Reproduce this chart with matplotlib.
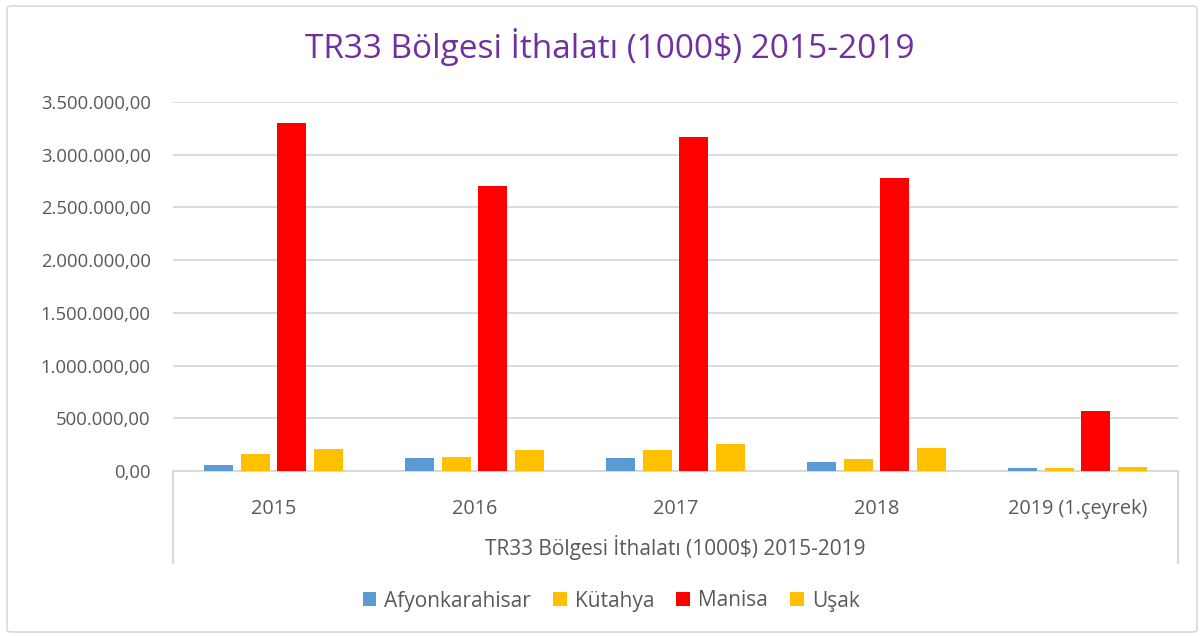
import matplotlib
matplotlib.use("Agg")
import matplotlib.pyplot as plt
import numpy as np
from matplotlib.patches import FancyBboxPatch
from matplotlib.lines import Line2D
from matplotlib.ticker import FuncFormatter

categories = ["2015", "2016", "2017", "2018", "2019 (1.çeyrek)"]
series_names = ["Afyonkarahisar", "Kütahya", "Manisa", "Uşak"]
afyon = [57000, 126000, 126000, 88000, 28000]
kutahya = [161000, 133000, 199000, 114000, 25000]
manisa = [3300000, 2703000, 3168000, 2779000, 569000]
usak = [206000, 202000, 256000, 218000, 38000]
colors = ["#5B9BD5", "#FFC000", "#FF0000", "#FFC000"]
title = "TR33 Bölgesi İthalatı (1000$) 2015-2019"
yticks = [0, 500000, 1000000, 1500000, 2000000, 2500000, 3000000, 3500000]

TXT = "#595959"
GRID = "#D9D9D9"

fig = plt.figure(figsize=(12.03, 6.36), dpi=100)
W, H = 1203, 636

# figure border
border = FancyBboxPatch((7 / W, 4 / H), (1190) / W, (626) / H,
                        boxstyle="round,pad=0,rounding_size=0.004",
                        transform=fig.transFigure, facecolor="none",
                        edgecolor=GRID, linewidth=1.2, zorder=-5)
fig.patches.append(border)

ax_l, ax_r, ax_t, ax_b = 173, 1178, 102, 471
ax = fig.add_axes([ax_l / W, 1 - ax_b / H, (ax_r - ax_l) / W, (ax_b - ax_t) / H])
ax.set_facecolor("none")

x = np.arange(len(categories))
step = 0.182
width = 0.144
data = [afyon, kutahya, manisa, usak]
for i, (name, vals, c) in enumerate(zip(series_names, data, colors)):
    ax.bar(x + (i - 1.5) * step, vals, width=width, color=c, label=name,
           zorder=3, linewidth=0)

ax.set_xlim(-0.5, len(categories) - 0.5)
ax.set_ylim(0, 3500000)
ax.set_yticks(yticks)

def tr_fmt(v, pos):
    s = f"{v:,.2f}"
    return s.replace(",", "X").replace(".", ",").replace("X", ".")

ax.yaxis.set_major_formatter(FuncFormatter(tr_fmt))
ax.yaxis.grid(True, color=GRID, linewidth=1.3, zorder=0)
ax.set_axisbelow(True)
for s in ["top", "right", "left"]:
    ax.spines[s].set_visible(False)
ax.spines["bottom"].set_color(GRID)
ax.spines["bottom"].set_linewidth(1.5)
ax.tick_params(axis="y", length=0, pad=16, labelsize=13.3, labelcolor=TXT)
ax.tick_params(axis="x", length=0, pad=20, labelsize=14.3, labelcolor=TXT)
for lab in ax.get_yticklabels():
    lab.set_fontfamily("Open Sans")
ax.set_xticks(x)
ax.set_xticklabels(categories, fontfamily="Open Sans")

# multi-level box below axis
box_bottom = (ax_b - 563) / (ax_b - ax_t)
for xx in (0, 1):
    ax.add_line(Line2D([xx, xx], [0, box_bottom], transform=ax.transAxes,
                       color=GRID, linewidth=1.5, clip_on=False))

fig.text((ax_l + ax_r) / 2 / W, 1 - 548 / H, title, ha="center", va="center",
         fontsize=15, color=TXT, fontfamily="Open Sans")

fig.text(0.5065, 1 - 47 / H, title, ha="center", va="center",
         fontsize=24, color="#7030A0", fontfamily="Open Sans")

leg = fig.legend(loc="center", bbox_to_anchor=(0.508, 1 - 601 / H), ncol=4,
                 frameon=False, handlelength=0.65, handleheight=0.65,
                 handletextpad=0.4, columnspacing=1.05,
                 prop={"family": "Open Sans", "size": 15})
for t in leg.get_texts():
    t.set_color(TXT)

fig.savefig("out.png", dpi=100)
